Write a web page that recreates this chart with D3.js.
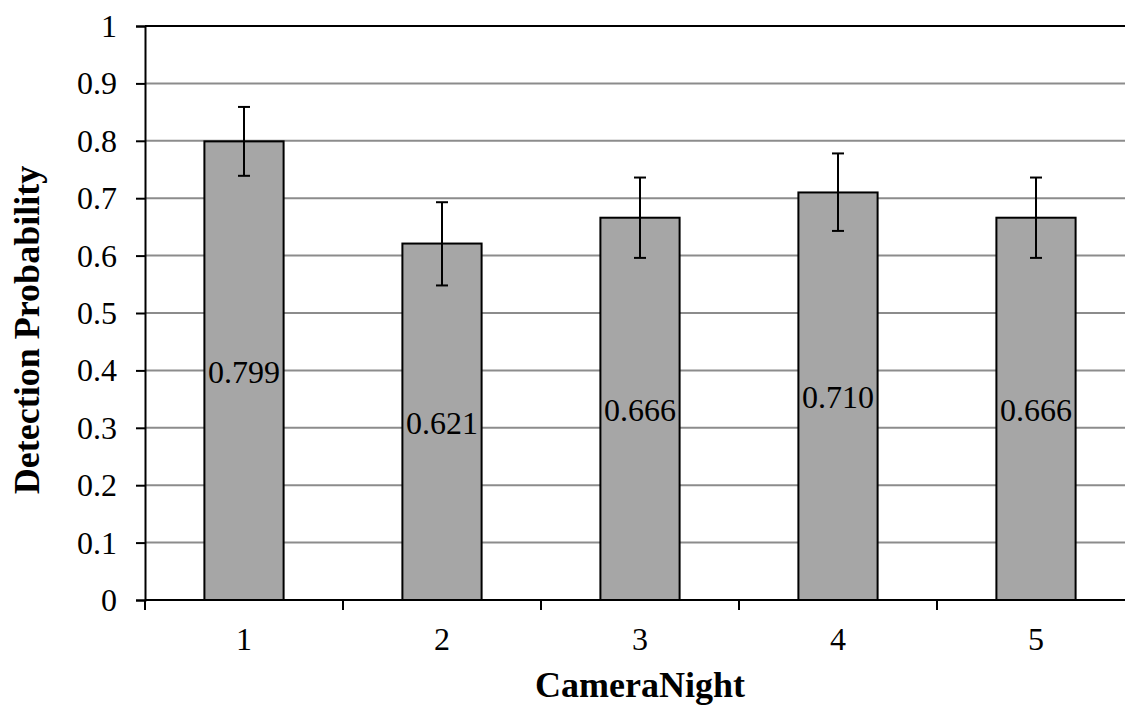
<!DOCTYPE html>
<html>
<head>
<meta charset="utf-8">
<script src="https://cdn.jsdelivr.net/npm/d3@7"></script>
<style>
  html, body { margin: 0; padding: 0; background: #fff; }
  svg { display: block; font-family: "Liberation Serif", "Times New Roman", serif; }
</style>
</head>
<body>
<svg id="chart" width="1125" height="706"></svg>
<script>
// ---- data ----
const categories = ["1", "2", "3", "4", "5"];
const values = [0.799, 0.621, 0.666, 0.710, 0.666];
const upper = [0.859, 0.693, 0.736, 0.778, 0.736];
const lower = [0.739, 0.548, 0.596, 0.643, 0.596];
const valueLabels = ["0.799", "0.621", "0.666", "0.710", "0.666"];
const yTicks = [0, 0.1, 0.2, 0.3, 0.4, 0.5, 0.6, 0.7, 0.8, 0.9, 1];
const yTickLabels = ["0", "0.1", "0.2", "0.3", "0.4", "0.5", "0.6", "0.7", "0.8", "0.9", "1"];
const xTitle = "CameraNight";
const yTitle = "Detection Probability";

// ---- layout ----
const svg = d3.select("#chart");
const mLeft = 145, mRight = 1135, mTop = 26, mBottom = 600;

const x = d3.scaleBand().domain(categories).range([mLeft, mRight])
  .paddingInner(0.6).paddingOuter(0.3);
const y = d3.scaleLinear().domain([0, 1]).range([mBottom, mTop]);

// gridlines
svg.append("g").selectAll("line").data(yTicks.filter(d => d > 0)).join("line")
  .attr("x1", mLeft).attr("x2", mRight)
  .attr("y1", d => y(d)).attr("y2", d => y(d))
  .attr("stroke", d => d === 1 ? "#000" : "#8c8c8c")
  .attr("stroke-width", 2);

// y axis
const yAxis = d3.axisLeft(y).tickValues(yTicks)
  .tickFormat((d, i) => yTickLabels[i]).tickSize(9).tickPadding(19);
const gy = svg.append("g").attr("transform", `translate(${mLeft},0)`).call(yAxis);
gy.select(".domain").attr("stroke", "#000").attr("stroke-width", 2);
gy.selectAll(".tick line").attr("stroke", "#000").attr("stroke-width", 2);
gy.selectAll(".tick text").attr("font-size", 32).attr("fill", "#000")
  .attr("font-family", "Liberation Serif").attr("dy", "0.33em");

// bars
const step = x.step();
const gap = step * x.paddingInner();
svg.append("g").selectAll("rect").data(values).join("rect")
  .attr("x", (d, i) => x(categories[i]))
  .attr("y", d => y(d))
  .attr("width", x.bandwidth())
  .attr("height", d => y(0) - y(d))
  .attr("fill", "#a6a6a6")
  .attr("stroke", "#000").attr("stroke-width", 2);

// x axis line and ticks at band boundaries
svg.append("line").attr("x1", mLeft).attr("x2", mRight)
  .attr("y1", y(0)).attr("y2", y(0)).attr("stroke", "#000").attr("stroke-width", 2);
const boundaries = categories.map(c => x(c) - gap / 2).concat([x(categories[categories.length - 1]) + x.bandwidth() + gap / 2]);
svg.append("g").selectAll("line").data(boundaries).join("line")
  .attr("x1", d => d).attr("x2", d => d)
  .attr("y1", y(0)).attr("y2", y(0) + 10)
  .attr("stroke", "#000").attr("stroke-width", 2);
svg.append("g").selectAll("text").data(categories).join("text")
  .attr("x", d => x(d) + x.bandwidth() / 2)
  .attr("y", y(0) + 50)
  .attr("text-anchor", "middle").attr("font-size", 32).attr("fill", "#000")
  .text(d => d);

// error bars
const eb = svg.append("g").attr("stroke", "#000").attr("stroke-width", 2);
categories.forEach((c, i) => {
  const cx = x(c) + x.bandwidth() / 2;
  eb.append("line").attr("x1", cx).attr("x2", cx).attr("y1", y(upper[i])).attr("y2", y(lower[i]));
  eb.append("line").attr("x1", cx - 6).attr("x2", cx + 6).attr("y1", y(upper[i])).attr("y2", y(upper[i]));
  eb.append("line").attr("x1", cx - 6).attr("x2", cx + 6).attr("y1", y(lower[i])).attr("y2", y(lower[i]));
});

// value labels (condensed)
svg.append("g").selectAll("text").data(values).join("text")
  .attr("x", (d, i) => x(categories[i]) + x.bandwidth() / 2 - 36)
  .attr("y", d => y(d / 2) + 12)
  .attr("font-size", 32).attr("fill", "#000")
  .attr("textLength", 72).attr("lengthAdjust", "spacingAndGlyphs")
  .text((d, i) => valueLabels[i]);

// axis titles
svg.append("text").attr("x", (mLeft + mRight) / 2).attr("y", 697)
  .attr("text-anchor", "middle").attr("font-size", 36).attr("font-weight", "bold")
  .attr("fill", "#000").text(xTitle);
svg.append("text").attr("transform", "translate(39,330) rotate(-90)")
  .attr("text-anchor", "middle").attr("font-size", 36).attr("font-weight", "bold")
  .attr("fill", "#000").text(yTitle);
</script>
</body>
</html>
